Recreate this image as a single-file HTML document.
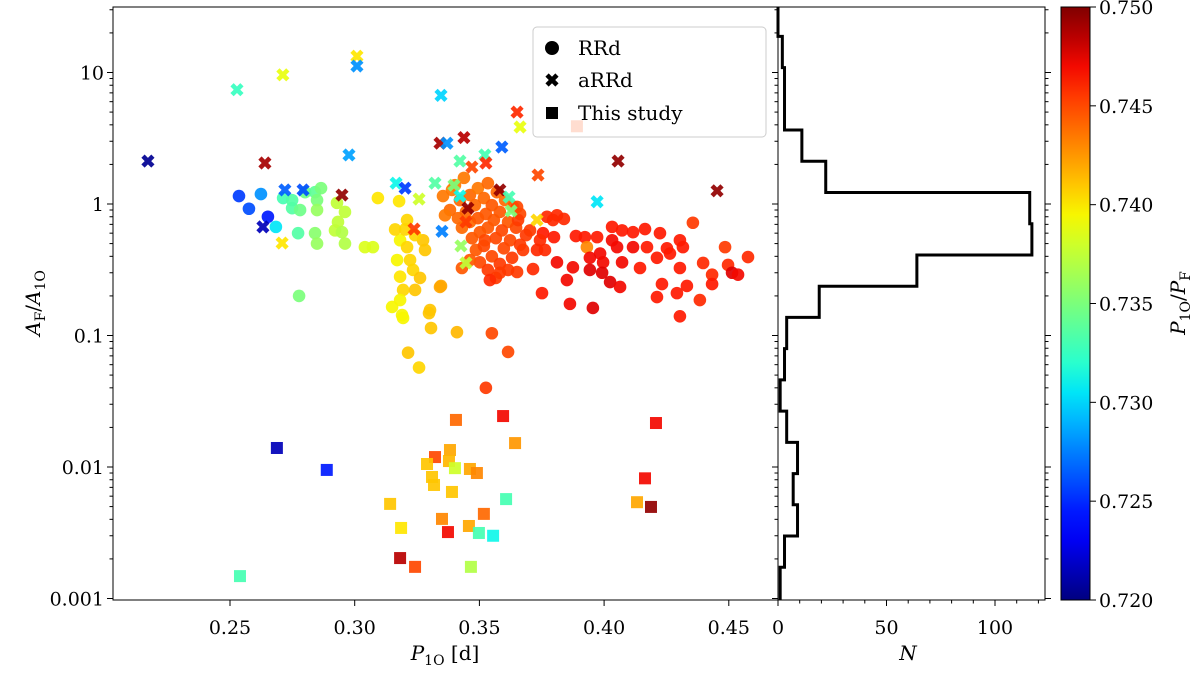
<!DOCTYPE html>
<html><head><meta charset="utf-8"><style>
body{margin:0;background:#fff}
svg text{font-family:"DejaVu Serif","Liberation Serif",serif;fill:#000}
</style></head><body>
<svg id="chart" width="1200" height="667" viewBox="0 0 1200 667" xmlns="http://www.w3.org/2000/svg">
<g id="marks"></g>
<g id="hist"></g>
<g id="axes"></g>
<g id="legend">
 <rect x="533" y="27" width="233" height="110" rx="4" fill="#fff" fill-opacity="0.8" stroke="#ccc"/>
 <circle cx="552" cy="48" r="7" fill="#000"/>
 <text x="578" y="55" font-size="20">RRd</text>
 <g transform="translate(552,80) rotate(45)"><rect x="-7" y="-2.3" width="14" height="4.6" fill="#000"/><rect x="-2.3" y="-7" width="4.6" height="14" fill="#000"/></g>
 <text x="578" y="87" font-size="20">aRRd</text>
 <rect x="546" y="107" width="12" height="12" fill="#000"/>
 <text x="578" y="120" font-size="20">This study</text>
</g>
</svg>
<script>
// ---- data ----
const circP=[.2536,.2624,.2576,.2652,.2684,.2713,.2749,.2749,.2781,.2801,.2841,.2865,.2849,.2849,.2773,.2841,.2849,.2929,.2961,.2933,.2921,.2949,.2961,.3041,.3073,.3093,.3178,.2777,
.321,.3182,.321,.317,.3222,.3274,.3282,.3182,.3234,.3262,.3194,.3242,.3182,.315,.3302,.3346,.319,.3194,.3298,.3306,.341,.3214,.3258,.3162,.3202,.3242,
.355,.3615,.3526,.3342,
.3354,.339,.3422,.3462,.3494,.3534,.357,.3603,.3635,.3663,.3382,.3414,.3446,.3482,.3518,.355,.3582,.3615,.3647,.3687,.343,.3462,.3494,.3526,.3558,.359,.3623,.3663,.347,.3502,.3534,.3566,.3598,.3631,.3486,.3518,.355,.3582,.3615,.3502,.3534,.3566,.3438,.3402,.3522,.3462,.343,.3703,.3651,.3655,.3731,.3675,.3715,.3651,.3582,.3542,.3362,
.3771,.3811,.3839,.3755,.3795,.3799,.3887,.3923,.3972,.4032,.4072,.4116,.4164,.4224,.4356,.4032,.3984,.3931,.4052,.4116,.4172,.4252,.4304,.4316,.4485,.4577,.3811,.3875,.3943,.3996,.4072,.4144,.4212,.4264,.4304,.4397,.4497,.4513,.4537,.4433,.3992,.4024,.4064,.3943,.3851,.3751,.4232,.4332,.4433,.4212,.4292,.4384,.3863,.3955,.4304,.3743,.3763];
const circA=[1.15,1.19,.92,.80,.67,1.11,1.07,.93,.90,1.23,1.23,1.32,1.07,.90,.60,.60,.50,1.02,.87,.73,.63,.61,.50,.47,.47,1.11,1.05,.20,
.755,.53,.47,.375,.375,.53,.447,.28,.315,.274,.222,.222,.186,.165,.156,.238,.143,.136,.148,.114,.106,.074,.057,.64,.64,.58,
.104,.075,.04,.234,
1.15,1.28,1.07,1.17,1.32,1.44,1.23,1.07,.95,.84,.90,.78,.87,.98,1.11,.98,.87,.73,.66,.58,.66,.73,.78,.84,.755,.63,.53,.49,.55,.61,.66,.55,.46,.39,.447,.48,.40,.35,.315,.36,.315,.274,1.58,1.39,.53,.375,.326,.63,.95,.755,.447,.447,.32,.304,.30,.264,.82,
.80,.82,.77,.60,.755,.56,.57,.56,.56,.67,.63,.61,.645,.60,.72,.53,.42,.47,.47,.47,.47,.46,.53,.47,.47,.395,.36,.33,.39,.36,.36,.326,.39,.42,.326,.356,.344,.30,.29,.29,.30,.255,.234,.315,.264,.21,.246,.238,.246,.196,.21,.186,.174,.162,.14,.53,.447];
const circR=[.7255,.728,.726,.7245,.7305,.733,.7335,.7335,.7345,.7345,.734,.735,.735,.736,.7335,.7355,.736,.7375,.7375,.7375,.7375,.737,.737,.7385,.7385,.740,.740,.735,
.7405,.7395,.7405,.7395,.7405,.741,.741,.740,.7405,.741,.7405,.741,.7395,.7395,.741,.742,.7395,.7395,.741,.741,.7415,.741,.7405,.7405,.7405,.7405,
.745,.745,.7455,.742,
.7435,.7435,.744,.744,.7435,.744,.744,.744,.7445,.745,.744,.744,.744,.744,.744,.7445,.7445,.7445,.745,.7455,.744,.744,.7445,.7445,.7445,.745,.745,.7455,.7445,.7445,.7445,.745,.745,.7455,.7445,.745,.745,.7455,.7455,.745,.7455,.7455,.7435,.7435,.745,.7445,.7445,.7455,.745,.7455,.746,.7455,.746,.7455,.7455,.746,.7435,
.746,.746,.746,.7465,.746,.7465,.7465,.7465,.7465,.7465,.7465,.7465,.7465,.7465,.7455,.747,.747,.743,.747,.747,.7465,.7465,.7465,.7465,.7455,.746,.747,.747,.747,.747,.747,.7465,.7465,.7465,.7465,.746,.746,.7475,.747,.746,.7475,.7475,.747,.7475,.747,.7465,.7465,.7465,.7465,.7465,.7465,.746,.747,.7475,.7465,.746,.746];
const crossP=[.2171,.2712,.2528,.3009,.3009,.2977,.264,.3346,.3651,.3663,.3342,.337,.3438,.3422,.3522,.3526,.347,.359,.3735,.4056,.3972,.4453,.2949,.272,.2793,.2632,.2709,.3166,.3322,.3202,.3258,.3398,.3422,.3454,.3446,.3238,.335,.3426,.3446,.3582,.3619,.3627,.3731];
const crossA=[2.12,9.6,7.4,13.3,11.2,2.36,2.05,6.7,5.0,3.85,2.9,2.9,3.2,2.12,2.36,2.05,1.91,2.71,1.66,2.12,1.04,1.26,1.17,1.28,1.28,.67,.505,1.44,1.44,1.32,1.09,1.39,1.15,.93,.73,.645,.62,.48,.356,1.28,1.13,.885,.755];
const crossR=[.7205,.739,.7325,.740,.728,.7285,.749,.730,.746,.739,.749,.728,.7485,.7335,.733,.746,.745,.7265,.745,.7495,.7305,.7495,.7495,.7265,.726,.7215,.740,.731,.7335,.7255,.738,.735,.731,.7495,.7455,.7455,.7275,.736,.7375,.7495,.733,.735,.7405];
const sqP=[.2688,.2888,.3406,.3595,.3643,.4208,.3382,.3322,.329,.3378,.3402,.3462,.349,.331,.3318,.339,.3142,.3607,.4164,.4132,.4188,.3518,.335,.3186,.3374,.3458,.3498,.3555,.3182,.3242,.3466,.254,.3891];
const sqA=[.01395,.0095,.0228,.0244,.0152,.0216,.01346,.0119,.01054,.0111,.0098,.00966,.009,.0084,.0073,.00646,.00524,.0057,.0082,.0054,.00497,.0044,.00403,.00344,.0032,.00356,.00315,.003,.00203,.00174,.00174,.00148,3.9];
const sqR=[.7215,.7245,.744,.747,.7425,.747,.742,.745,.741,.7415,.738,.742,.743,.741,.741,.741,.741,.733,.747,.742,.7495,.744,.743,.740,.747,.742,.733,.731,.7485,.745,.737,.733,.745];
const binLo=-3.0, binW=0.2375;
const histCounts=[1,3,9,7,9,4,1,3,4,19,64,117,116,22,11,3,3,2];
const xTicks=[0.25,0.30,0.35,0.40,0.45];
const yTicks=[0.001,0.01,0.1,1,10];
const yTickLabels=["0.001","0.01","0.1","1","10"];
const nTicks=[0,50,100];
const cbTicks=[0.720,0.725,0.730,0.735,0.740,0.745,0.750];

// ---- geometry ----
const L=113,R=778,T=7,B=600,HR=1045,CL=1061,CR=1090;
const NS='http://www.w3.org/2000/svg';
const X=p=>230+(p-0.25)*2494;
const Y=a=>204-131.5*Math.log10(a);
const YL=l=>204-131.5*l;
const HX=n=>778+n*2.17;
const CY=r=>B-(r-0.72)/0.03*(B-T);
function interp(pts,t){for(let i=1;i<pts.length;i++){if(t<=pts[i][0]){const[a,va]=pts[i-1],[b,vb]=pts[i];return va+(vb-va)*(t-a)/(b-a);}}return pts[pts.length-1][1];}
function jet(r){const t=Math.max(0,Math.min(1,(r-0.72)/0.03));
 const rr=interp([[0,0],[.35,0],[.66,1],[.89,1],[1,.5]],t),gg=interp([[0,0],[.125,0],[.375,1],[.64,1],[.91,0],[1,0]],t),bb=interp([[0,.5],[.11,1],[.34,1],[.65,0],[1,0]],t);
 return `rgb(${Math.round(rr*255)},${Math.round(gg*255)},${Math.round(bb*255)})`;}
function el(tag,attrs,parent){const e=document.createElementNS(NS,tag);for(const k in attrs)e.setAttribute(k,attrs[k]);parent.appendChild(e);return e;}
const marks=document.getElementById('marks'),hist=document.getElementById('hist'),axes=document.getElementById('axes');

// circles
circP.forEach((p,i)=>{const c=el('circle',{cx:X(p),cy:Y(circA[i]),r:6.3,fill:jet(circR[i]),'fill-opacity':0.92},marks);

});
// squares
sqP.forEach((p,i)=>{const s=el('rect',{x:X(p)-6,y:Y(sqA[i])-6,width:12,height:12,fill:jet(sqR[i]),'fill-opacity':0.92},marks);

});
// crosses
crossP.forEach((p,i)=>{const g=el('g',{transform:`translate(${X(p)},${Y(crossA[i])}) rotate(45)`,fill:jet(crossR[i]),'fill-opacity':0.92},marks);


el('path',{d:'M-7,-2.3H-2.3V-7H2.3V-2.3H7V2.3H2.3V7H-2.3V2.3H-7Z'},g);});

// histogram step line
let d=`M${HX(0)},${T}`;let prev=0;
const topL=(204-T)/131.5;
for(let i=histCounts.length-1;i>=0;i--){const hi=binLo+(i+1)*binW,lo=binLo+i*binW;const yh=YL(Math.min(hi,topL));
 d+=`L${HX(prev)},${yh}L${HX(histCounts[i])},${yh}L${HX(histCounts[i])},${YL(lo)}`;prev=histCounts[i];}
d+=`L${HX(prev)},${B}`;
const hp=el('path',{d:d,fill:'none',stroke:'#000','stroke-width':3},hist);



// axes frames
const f1=el('rect',{x:L,y:T,width:R-L,height:B-T,fill:'none',stroke:'#000','stroke-width':1},axes);


const f2=el('rect',{x:R,y:T,width:HR-R,height:B-T,fill:'none',stroke:'#000','stroke-width':1},axes);


// colorbar gradient
const defs=el('defs',{},axes);const lg=el('linearGradient',{id:'cbg',x1:0,y1:1,x2:0,y2:0},defs);
for(let k=0;k<=20;k++){el('stop',{offset:k/20,'stop-color':jet(0.72+0.03*k/20)},lg);}
const cb=el('rect',{x:CL,y:T,width:CR-CL,height:B-T,fill:'url(#cbg)',stroke:'#000','stroke-width':1},axes);



// x ticks main
xTicks.forEach(v=>{el('line',{x1:X(v),x2:X(v),y1:B,y2:B+6,stroke:'#000'},axes);
 const t=el('text',{x:X(v),y:634,'font-size':19,'text-anchor':'middle'},axes);t.textContent=v.toFixed(2);
 
 });
// y ticks log
yTicks.forEach((v,i)=>{el('line',{x1:L-6,x2:L,y1:Y(v),y2:Y(v),stroke:'#000'},axes);
 el('line',{x1:R-6,x2:R,y1:Y(v),y2:Y(v),stroke:'#000'},axes);
 el('line',{x1:HR,x2:HR+6,y1:Y(v),y2:Y(v),stroke:'#000'},axes);
 const t=el('text',{x:L-9,y:Y(v)+7,'font-size':19,'text-anchor':'end'},axes);t.textContent=yTickLabels[i];
 
 
 for(let m=2;m<10;m++){const yy=Y(v*m);if(yy<T)continue;
  el('line',{x1:L-3.5,x2:L,y1:yy,y2:yy,stroke:'#000'},axes);
  el('line',{x1:R-3.5,x2:R,y1:yy,y2:yy,stroke:'#000'},axes);
  el('line',{x1:HR,x2:HR+3.5,y1:yy,y2:yy,stroke:'#000'},axes);}});
// N ticks
nTicks.forEach(v=>{el('line',{x1:HX(v),x2:HX(v),y1:B,y2:B+6,stroke:'#000'},axes);
 const t=el('text',{x:HX(v),y:634,'font-size':19,'text-anchor':'middle'},axes);t.textContent=String(v);
 
 });
for(let n=10;n<=120;n+=10){if(n%50)el('line',{x1:HX(n),x2:HX(n),y1:B,y2:B+3.5,stroke:'#000'},axes);}
// colorbar ticks
cbTicks.forEach(v=>{el('line',{x1:CR,x2:CR+6,y1:CY(v),y2:CY(v),stroke:'#000'},axes);
 const t=el('text',{x:CR+9,y:CY(v)+7,'font-size':19},axes);t.textContent=v.toFixed(3);
 
 });
</script>
<svg width="0" height="0"></svg>
<div style="position:absolute;left:0;top:0;width:1200px;height:667px;pointer-events:none">
<svg width="1200" height="667" style="position:absolute;left:0;top:0">
 <text x="445" y="660" font-size="20" text-anchor="middle"><tspan font-style="italic">P</tspan><tspan font-size="14" dy="5">1O</tspan><tspan dy="-5"> [d]</tspan></text>
 <text x="908" y="660" font-size="20" font-style="italic" text-anchor="middle">N</text>
 <text transform="translate(40,303) rotate(-90)" font-size="20" text-anchor="middle"><tspan font-style="italic">A</tspan><tspan font-size="14" dy="5">F</tspan><tspan dy="-5">/</tspan><tspan font-style="italic">A</tspan><tspan font-size="14" dy="5">1O</tspan></text>
 <text transform="translate(1185,303) rotate(-90)" font-size="20" text-anchor="middle"><tspan font-style="italic">P</tspan><tspan font-size="14" dy="5">1O</tspan><tspan dy="-5">/</tspan><tspan font-style="italic">P</tspan><tspan font-size="14" dy="5">F</tspan></text>
</svg></div>
</body></html>
